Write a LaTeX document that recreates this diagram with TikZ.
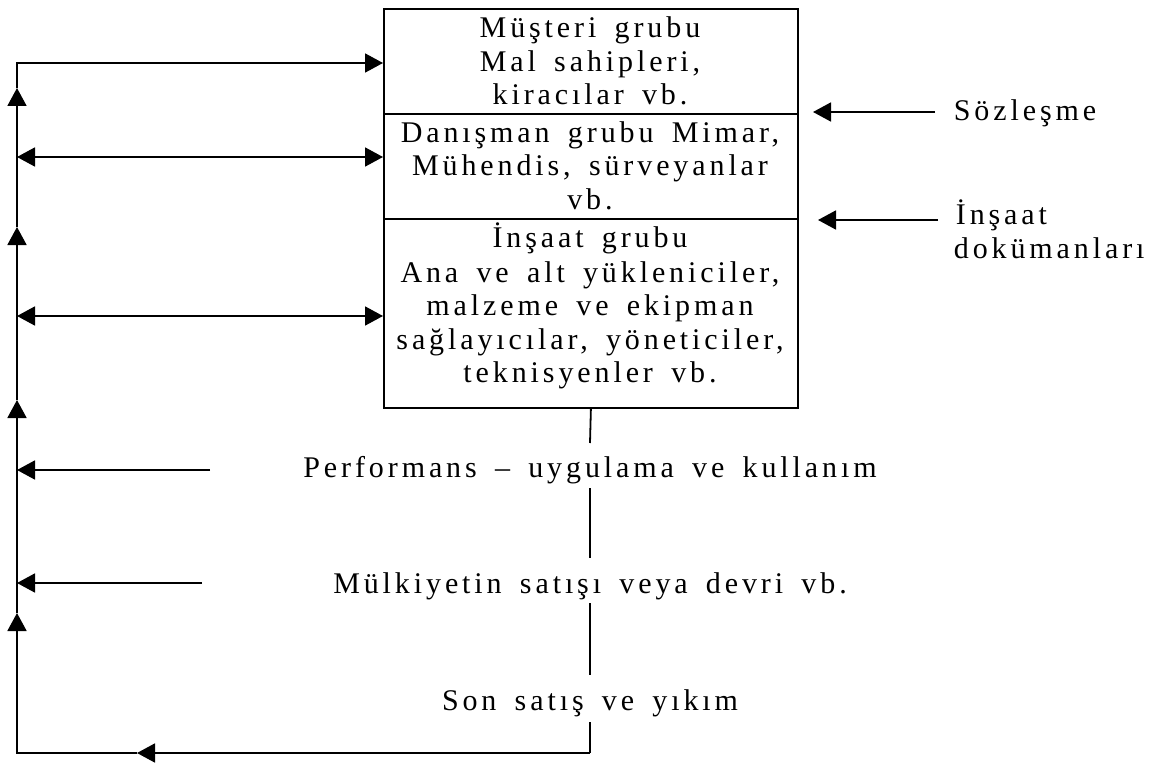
\documentclass[tikz,border=0pt]{standalone}
\usepackage{fontspec}
\setmainfont{Liberation Serif}[LetterSpace=13,WordSpace=1.6]
\usetikzlibrary{arrows.meta}
\begin{document}
\begin{tikzpicture}[x=0.5pt,y=-0.5pt,
  line width=0.9pt, line join=miter,
  tip/.style={-{Triangle[length=9pt,width=9.5pt]}},
  tips/.style={{Triangle[length=9pt,width=9.5pt]}-{Triangle[length=9pt,width=9.5pt]}},
  part/.style={draw, rectangle, inner sep=0pt, minimum width=207pt, anchor=north west},
  txt/.style={inner sep=0pt, anchor=base, font=\fontsize{15pt}{17pt}\selectfont},
  lbl/.style={txt, anchor=base west}]
\fill[white] (0,0) rectangle (1168,765);
\useasboundingbox (0,0) rectangle (1168,765);

% the three groups stacked in one box
\node[part, minimum height=52.5pt] (client)  at (383,8)   {};
\node[part, minimum height=52.5pt] (consult) at (383,113) {};
\node[part, minimum height=94.5pt] (build)   at (383,218) {};

\node[txt] (c1) at (590,38)  {Müşteri grubu};
\node[txt] (c2) at (590,72)  {Mal sahipleri,};
\node[txt] (c3) at (590,105) {kiracılar vb.};
\node[txt] (d1) at (590,143) {Danışman grubu Mimar,};
\node[txt] (d2) at (590,176) {Mühendis, sürveyanlar};
\node[txt] (d3) at (590,209) {vb.};
\node[txt] (i1) at (590,248) {İnşaat grubu};
\node[txt] (i2) at (590,282) {Ana ve alt yükleniciler,};
\node[txt] (i3) at (590,315) {malzeme ve ekipman};
\node[txt] (i4) at (590,349) {sağlayıcılar, yöneticiler,};
\node[txt] (i5) at (590,382) {teknisyenler vb.};

% life-cycle stages below the box
\node[txt] (perf) at (590,477) {Performans – uygulama ve kullanım};
\node[txt] (sale) at (590,593) {Mülkiyetin satışı veya devri vb.};
\node[txt] (demo) at (590,710) {Son satış ve yıkım};

% inputs on the right
\node[lbl] (contract) at (953,121) {Sözleşme};
\node[lbl] (docs1)    at (955,225) {İnşaat};
\node[lbl] (docs2)    at (953,258) {dokümanları};

% stem under the box, broken by the stage labels
\coordinate (v1a) at (590,443);
\coordinate (v1b) at (590,488);
\coordinate (v2a) at (590,558);
\coordinate (v2b) at (590,603);
\coordinate (v3a) at (590,675);
\coordinate (v3b) at (590,722);
\coordinate (br)  at (590,753);
\draw (build.south) -- (v1a);
\draw (v1b) -- (v2a);
\draw (v2b) -- (v3a);
\draw (v3b) -- (br);

% feedback loop on the left
\coordinate (bl) at (17,753);
\coordinate (tl) at (17,63);
\coordinate (b1) at (137,753);
\coordinate (u1) at (17,613);
\coordinate (u2) at (17,400);
\coordinate (u3) at (17,227);
\coordinate (u4) at (17,88);
\draw[tip] (br) -- (b1);
\draw[tip] (b1) -- (bl) -- (u1);
\draw[tip] (u1) -- (u2);
\draw[tip] (u2) -- (u3);
\draw[tip] (u3) -- (u4);
\draw[tip] (u4) -- (tl) -- (tl -| client.west);

% links between the loop and the groups
\coordinate (l2) at (17,157);
\coordinate (l3) at (17,316);
\draw[tips] (l2) -- (l2 -| consult.west);
\draw[tips] (l3) -- (l3 -| build.west);

% stage arrows into the loop
\coordinate (pa) at (210,470);
\coordinate (sa) at (202,583);
\draw[tip] (pa) -- (pa -| tl);
\draw[tip] (sa) -- (sa -| tl);

% input arrows towards the box
\coordinate (ca) at (935,112);
\coordinate (cb) at (813,112);
\coordinate (da) at (938,220);
\coordinate (db) at (818,220);
\draw[tip] (ca) -- (cb);
\draw[tip] (da) -- (db);
\end{tikzpicture}
\end{document}
